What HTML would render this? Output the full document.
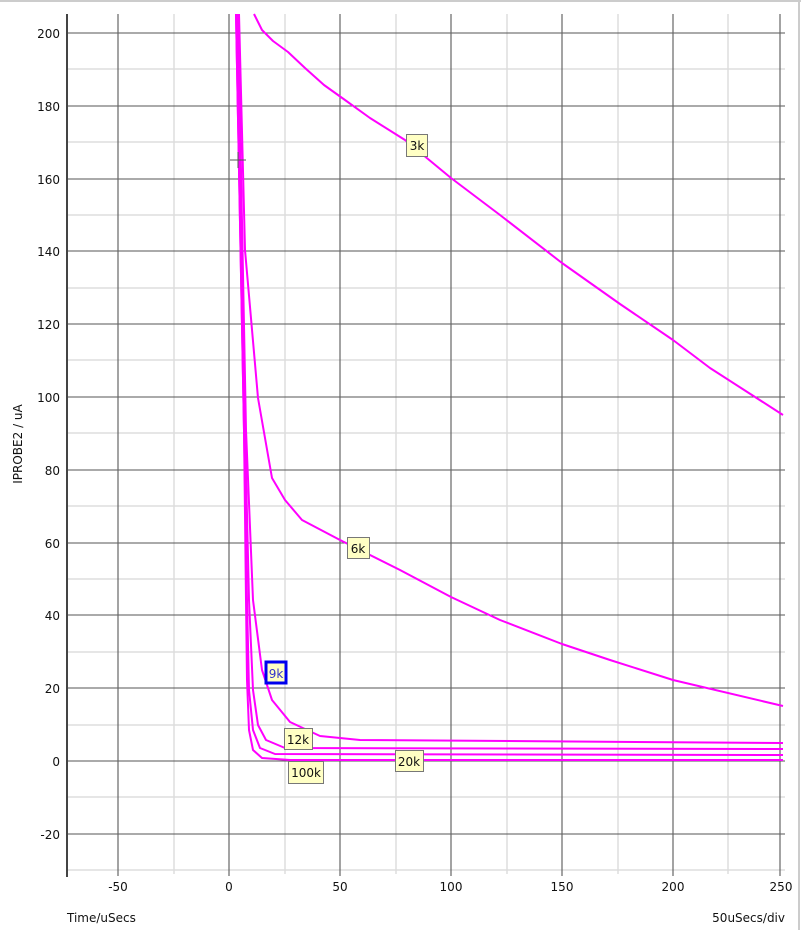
<!DOCTYPE html>
<html><head><meta charset="utf-8"><style>
html,body{margin:0;padding:0;background:#fff}
svg{display:block}
text{font-family:"DejaVu Sans","Liberation Sans",sans-serif;font-size:12px;fill:#111}
</style></head><body>
<svg width="801" height="930" viewBox="0 0 801 930" xmlns="http://www.w3.org/2000/svg">
<rect x="0" y="0" width="801" height="930" fill="#fff"/>
<line x1="0" y1="1" x2="801" y2="1" stroke="#ccc" stroke-width="2"/>
<line x1="799" y1="0" x2="799" y2="930" stroke="#ccc" stroke-width="2"/>
<!-- minor vertical -->
<g stroke="#ddd" stroke-width="1.5">
<line x1="174" y1="14" x2="174" y2="874"/><line x1="285" y1="14" x2="285" y2="874"/>
<line x1="396" y1="14" x2="396" y2="874"/><line x1="507" y1="14" x2="507" y2="874"/>
<line x1="618" y1="14" x2="618" y2="874"/><line x1="728" y1="14" x2="728" y2="874"/>
</g>
<!-- minor horizontal -->
<g stroke="#ddd" stroke-width="1.5">
<line x1="67" y1="69" x2="785" y2="69"/><line x1="67" y1="142" x2="785" y2="142"/>
<line x1="67" y1="215" x2="785" y2="215"/><line x1="67" y1="288" x2="785" y2="288"/>
<line x1="67" y1="360" x2="785" y2="360"/><line x1="67" y1="433" x2="785" y2="433"/>
<line x1="67" y1="506" x2="785" y2="506"/><line x1="67" y1="579" x2="785" y2="579"/>
<line x1="67" y1="652" x2="785" y2="652"/><line x1="67" y1="725" x2="785" y2="725"/>
<line x1="67" y1="797" x2="785" y2="797"/><line x1="67" y1="870" x2="785" y2="870"/>
</g>
<!-- major horizontal -->
<g stroke="#555" stroke-width="1">
<line x1="67" y1="33" x2="785" y2="33"/><line x1="67" y1="106" x2="785" y2="106"/>
<line x1="67" y1="179" x2="785" y2="179"/><line x1="67" y1="251" x2="785" y2="251"/>
<line x1="67" y1="324" x2="785" y2="324"/><line x1="67" y1="397" x2="785" y2="397"/>
<line x1="67" y1="470" x2="785" y2="470"/><line x1="67" y1="543" x2="785" y2="543"/>
<line x1="67" y1="615" x2="785" y2="615"/><line x1="67" y1="688" x2="785" y2="688"/>
<line x1="67" y1="761" x2="785" y2="761"/><line x1="67" y1="834" x2="785" y2="834"/>
</g>
<!-- major vertical -->
<g stroke="#666" stroke-width="1.2">
<line x1="118" y1="14" x2="118" y2="876"/><line x1="229" y1="14" x2="229" y2="876"/>
<line x1="340" y1="14" x2="340" y2="876"/><line x1="451" y1="14" x2="451" y2="876"/>
<line x1="562" y1="14" x2="562" y2="876"/><line x1="673" y1="14" x2="673" y2="876"/>
<line x1="780" y1="14" x2="780" y2="876"/>
</g>
<line x1="67" y1="14" x2="67" y2="877" stroke="#444" stroke-width="2"/>
<!-- curves -->
<g fill="none" stroke="#ff00ff" stroke-width="2" stroke-linejoin="round">
<path d="M236,14 L244,430 L246,600 L247,680 L249,730 L253,750 L262,758 L290,760 L783,760"/>
<path d="M236,14 L244,430 L247,600 L249,690 L253,730 L260,748 L275,754 L783,755"/>
<path d="M237,14 L245,430 L249,600 L253,690 L258,725 L266,740 L285,748 L783,749"/>
<path d="M238,14 L246,430 L253,600 L262,670 L272,700 L290,722 L320,736 L360,740 L783,743"/>
<path d="M239,14 L245,250 L258,398 L272,478 L285,500 L302,520 L340,540 L400,570 L451,597 L500,620 L562,644 L610,660 L673,680 L783,706"/>
<path d="M254,14 L258,22 L262,30 L273,41 L288,52 L305,68 L324,85 L345,100 L370,118 L405,140 L451,178 L500,215 L562,263 L620,304 L673,340 L710,368 L783,415"/>
</g>
<!-- crosshair -->
<line x1="230" y1="160" x2="246" y2="160" stroke="#555" stroke-width="1"/>
<line x1="238" y1="152" x2="238" y2="168" stroke="#555" stroke-width="1"/>
<!-- labels -->
<g stroke="#777" stroke-width="1" fill="#ffffc4">
<rect x="406.5" y="134.5" width="21" height="22"/>
<rect x="347.5" y="537.5" width="22" height="21"/>
<rect x="284.5" y="728.5" width="28" height="21"/>
<rect x="288.5" y="761.5" width="35" height="22"/>
<rect x="395.5" y="750.5" width="28" height="21"/>
</g>
<rect x="266" y="662" width="20" height="21" fill="#ffffc4" stroke="#0000ee" stroke-width="3"/>
<text x="417" y="150" text-anchor="middle">3k</text>
<text x="358" y="553" text-anchor="middle">6k</text>
<text x="276" y="678" text-anchor="middle" style="fill:#3333cc">9k</text>
<text x="298" y="744" text-anchor="middle">12k</text>
<text x="306" y="777" text-anchor="middle">100k</text>
<text x="409" y="766" text-anchor="middle">20k</text>
<!-- y tick labels -->
<g text-anchor="end">
<text x="60" y="38">200</text><text x="60" y="111">180</text><text x="60" y="184">160</text>
<text x="60" y="256">140</text><text x="60" y="329">120</text><text x="60" y="402">100</text>
<text x="60" y="475">80</text><text x="60" y="548">60</text><text x="60" y="620">40</text>
<text x="60" y="693">20</text><text x="60" y="766">0</text><text x="60" y="839">-20</text>
</g>
<g text-anchor="middle">
<text x="118" y="891">-50</text><text x="229" y="891">0</text><text x="340" y="891">50</text>
<text x="451" y="891">100</text><text x="562" y="891">150</text><text x="673" y="891">200</text>
<text x="781" y="891">250</text>
</g>
<text x="67" y="922">Time/uSecs</text>
<text x="785" y="922" text-anchor="end">50uSecs/div</text>
<text transform="translate(22,444) rotate(-90)" text-anchor="middle">IPROBE2 / uA</text>
</svg>
</body></html>
